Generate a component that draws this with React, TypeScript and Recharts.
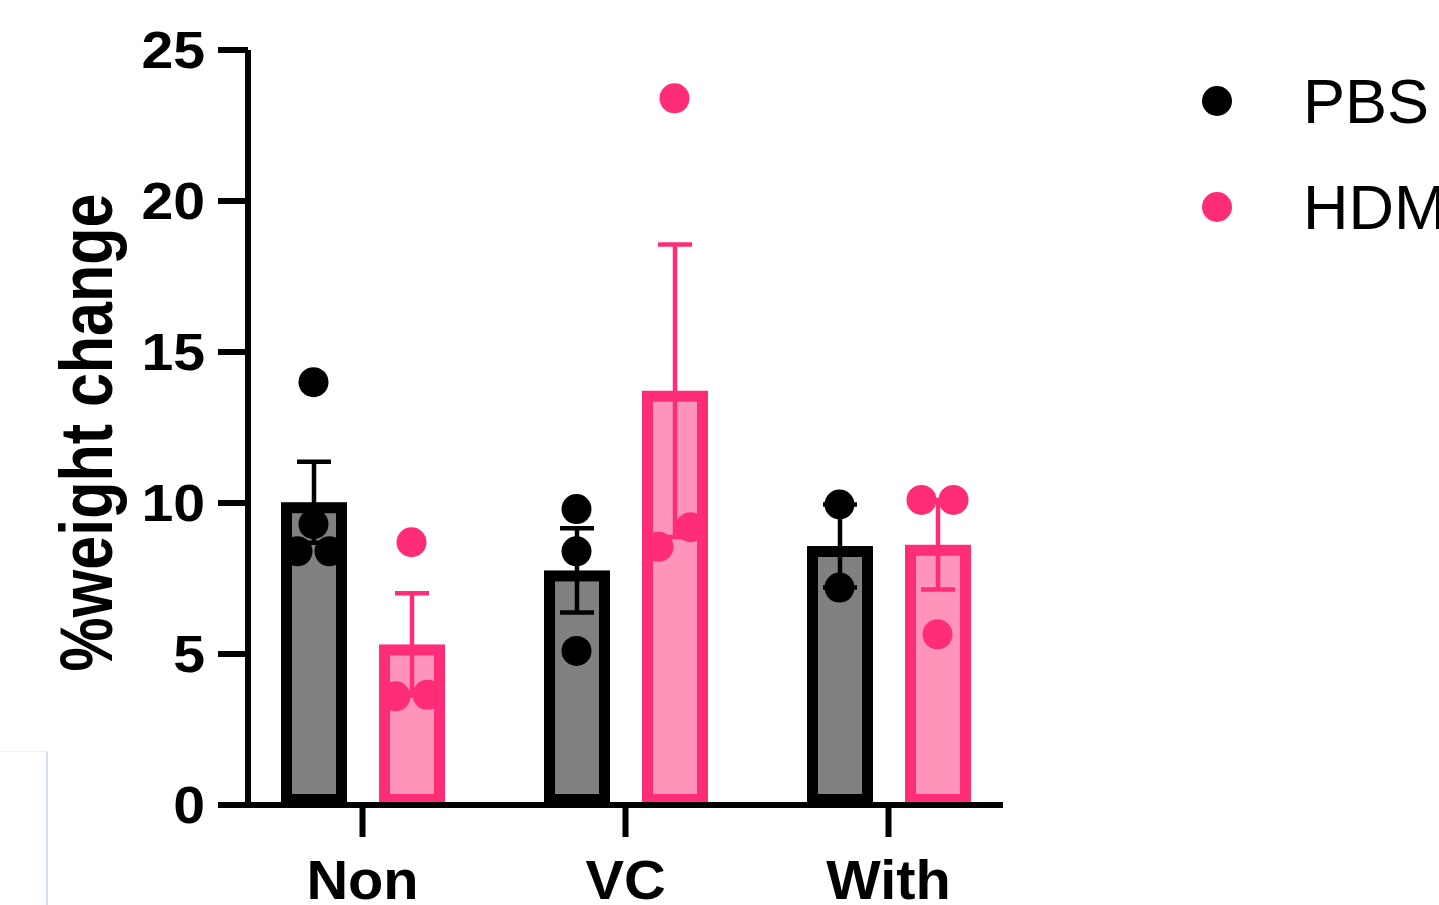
import React from "react";
import {
  ComposedChart,
  Bar,
  ErrorBar,
  Scatter,
  XAxis,
  YAxis,
  Legend,
} from "recharts";

// groups on the x axis
const CATEGORIES = ["Non", "VC", "With"];
// individual animals (one list per group)
const PBS_POINTS = [
  [14.0, 9.3, 8.4, 8.4],
  [9.8, 8.4, 5.1],
  [9.95, 7.2],
];
const HDM_POINTS = [
  [8.7, 3.65, 3.6],
  [23.4, 8.55, 9.2],
  [10.1, 10.1, 5.65],
];
const Y_TICKS = [0, 5, 10, 15, 20, 25];
const SERIES = ["PBS", "HDM"];
const Y_LABEL = "%weight change";

const FONT = '"Liberation Sans", Arial, sans-serif';
const PBS_STROKE = "#000000";
const PBS_FILL = "#808080";
const HDM_STROKE = "#FF2D78";
const HDM_FILL = "#FF94BB";

const BAR_SIZE = 66;
const BAR_GAP = 32;
const BAR_STROKE = 11;
const DOT_R = 15;
const SPREAD = 32;
const SAME_ROW = 0.75;
// the exported figure is a little wider than tall, text included
const STRETCH = 1.1;

function mean(v: number[]) {
  return v.reduce((a, b) => a + b, 0) / v.length;
}

function sem(v: number[]) {
  const m = mean(v);
  const ss = v.reduce((a, b) => a + (b - m) * (b - m), 0);
  return Math.sqrt(ss / (v.length - 1)) / Math.sqrt(v.length);
}

// put near-equal values side by side, like the prism scatter layout
function dodge(values: number[]) {
  const order = values.map((v, i) => ({ v, i })).sort((a, b) => a.v - b.v);
  const slots = new Array(values.length).fill(0);
  let k = 0;
  while (k < order.length) {
    let j = k;
    while (j + 1 < order.length && order[j + 1].v - order[k].v <= SAME_ROW) j++;
    const n = j - k + 1;
    for (let q = 0; q < n; q++) slots[order[k + q].i] = q - (n - 1) / 2;
    k = j + 1;
  }
  return slots;
}

const rows = CATEGORIES.map((group, i) => ({
  group,
  pbs: mean(PBS_POINTS[i]),
  pbsErr: sem(PBS_POINTS[i]),
  hdm: mean(HDM_POINTS[i]),
  hdmErr: sem(HDM_POINTS[i]),
}));

function toDots(points: number[][]) {
  return CATEGORIES.flatMap((group, i) => {
    const slots = dodge(points[i]);
    return points[i].map((value, j) => ({ group, value, slot: slots[j] }));
  });
}

const pbsDots = toDots(PBS_POINTS);
const hdmDots = toDots(HDM_POINTS);

const barShape = (stroke: string, fill: string) => (p: any) => {
  const h = BAR_STROKE / 2;
  return (
    <rect
      x={p.x + h}
      y={p.y + h}
      width={Math.max(p.width - BAR_STROKE, 0)}
      height={Math.max(p.height - BAR_STROKE, 0)}
      fill={fill}
      stroke={stroke}
      strokeWidth={BAR_STROKE}
    />
  );
};

const dotShape = (color: string, shift: number) => (p: any) => (
  <circle
    cx={p.cx + shift + (p.payload?.slot ?? 0) * SPREAD}
    cy={p.cy}
    r={DOT_R}
    fill={color}
  />
);

function YTick(props: any) {
  const { x, y, payload } = props;
  return (
    <text
      transform={`translate(${x}, ${y}) scale(${STRETCH}, 1)`}
      textAnchor="end"
      dy="0.355em"
      fontFamily={FONT}
      fontWeight="bold"
      fontSize={52}
      fill="#000"
    >
      {payload.value}
    </text>
  );
}

function XTick(props: any) {
  const { x, y, payload } = props;
  return (
    <text
      transform={`translate(${x}, ${y}) scale(1.05, 1)`}
      textAnchor="middle"
      dy="0.71em"
      fontFamily={FONT}
      fontWeight="bold"
      fontSize={55}
      fill="#000"
    >
      {payload.value}
    </text>
  );
}

function YLabel(props: any) {
  const vb = props.viewBox || {};
  const x = (vb.x ?? 0) + 112;
  const y = (vb.y ?? 0) + (vb.height ?? 0) / 2 + 5;
  return (
    <text
      transform={`translate(${x}, ${y}) rotate(-90) scale(1, 1.2)`}
      textAnchor="middle"
      fontFamily={FONT}
      fontWeight="bold"
      fontSize={61}
      fill="#000"
    >
      {Y_LABEL}
    </text>
  );
}

function LegendBox() {
  const colors = [PBS_STROKE, HDM_STROKE];
  return (
    <svg width={260} height={200} style={{ display: "block", overflow: "visible" }}>
      {SERIES.map((name, i) => (
        <g key={name}>
          <circle cx={27} cy={41 + i * 106} r={DOT_R} fill={colors[i]} />
          <text
            x={113}
            y={63 + i * 106}
            fontFamily={FONT}
            fontSize={63}
            fill="#000"
          >
            {name}
          </text>
        </g>
      ))}
    </svg>
  );
}

const axisStroke = { stroke: "#000", strokeWidth: 6 };

export default function App() {
  const shift = (BAR_SIZE + BAR_GAP) / 2;
  return (
    <div style={{ position: "absolute", left: 0, top: 0, width: 1439, height: 905, background: "#fff", overflow: "hidden" }}>
      <div
        style={{
          position: "absolute",
          left: 0,
          top: 751,
          width: 46,
          height: 160,
          borderTop: "1px solid #f0f3fa",
          borderRight: "2px solid #d3def2",
        }}
      />
      <ComposedChart
        width={1439}
        height={905}
        data={rows}
        margin={{ top: 50, right: 436, bottom: 0, left: 0 }}
        barSize={BAR_SIZE}
        barGap={BAR_GAP}
      >
        <XAxis
          dataKey="group"
          type="category"
          height={100}
          allowDuplicatedCategory={false}
          padding={{ left: -17, right: -17 }}
          axisLine={axisStroke}
          tickLine={axisStroke}
          tickSize={32}
          tickMargin={23}
          tick={<XTick />}
        />
        <YAxis
          type="number"
          domain={[0, 25]}
          ticks={Y_TICKS}
          width={248}
          axisLine={axisStroke}
          tickLine={axisStroke}
          tickSize={30}
          tickMargin={13}
          tick={<YTick />}
          label={{ content: <YLabel /> }}
        />
        <Legend
          verticalAlign="middle"
          align="center"
          layout="horizontal"
          content={() => <LegendBox />}
          wrapperStyle={{ position: "absolute", left: 1190, top: 60, width: 260 }}
        />
        <Bar
          dataKey="pbs"
          name="PBS"
          isAnimationActive={false}
          shape={barShape(PBS_STROKE, PBS_FILL)}
        >
          <ErrorBar dataKey="pbsErr" direction="y" width={17} stroke={PBS_STROKE} strokeWidth={4.5} />
        </Bar>
        <Bar
          dataKey="hdm"
          name="HDM"
          isAnimationActive={false}
          shape={barShape(HDM_STROKE, HDM_FILL)}
        >
          <ErrorBar dataKey="hdmErr" direction="y" width={17} stroke={HDM_STROKE} strokeWidth={4.5} />
        </Bar>
        <Scatter
          data={pbsDots}
          dataKey="value"
          name="PBS"
          legendType="none"
          isAnimationActive={false}
          shape={dotShape(PBS_STROKE, -shift)}
        />
        <Scatter
          data={hdmDots}
          dataKey="value"
          name="HDM"
          legendType="none"
          isAnimationActive={false}
          shape={dotShape(HDM_STROKE, shift)}
        />
      </ComposedChart>
    </div>
  );
}
